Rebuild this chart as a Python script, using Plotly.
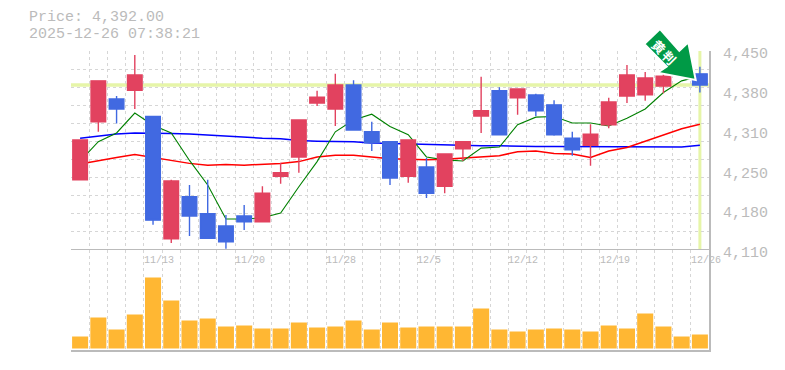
import plotly.graph_objects as go

price_text = ["Price: 4,392.00", "2025-12-26 07:38:21"]
last_price = 4392
opens = [4230,4329,4368,4383,4338,4129,4201,4172,4151,4168,4158,4236,4269,4361,4351,4392,4312,4295,4236,4252,4219,4283,4339,4382,4370,4375,4358,4301,4289,4324,4373,4375,4390,4411,4411]
highs = [4298,4399,4373,4443,4338,4230,4221,4230,4170,4187,4219,4259,4332,4382,4411,4400,4329,4296,4298,4267,4274,4296,4406,4388,4385,4377,4366,4312,4325,4370,4426,4414,4412,4426,4423]
lows = [4230,4312,4326,4351,4153,4122,4134,4130,4112,4144,4158,4223,4242,4356,4322,4315,4279,4221,4225,4199,4207,4262,4310,4307,4341,4339,4305,4271,4254,4318,4361,4365,4378,4408,4379]
closes = [4298,4399,4351,4409,4161,4228,4168,4130,4124,4158,4207,4242,4332,4371,4392,4315,4293,4233,4298,4207,4274,4295,4348,4307,4385,4348,4307,4281,4308,4363,4409,4404,4407,4421,4392]
ma_short = [4262,4295,4310,4344,4323,4310,4263,4221,4163,4163,4165,4173,4218,4261,4312,4332,4342,4321,4307,4269,4264,4262,4284,4286,4324,4337,4338,4327,4327,4322,4335,4351,4379,4399,4407]
ma_mid = [4257,4263,4268,4273,4268,4263,4258,4255,4256,4255,4256,4258,4261,4269,4272,4272,4269,4266,4265,4264,4265,4267,4269,4271,4278,4279,4275,4274,4268,4279,4285,4296,4307,4317,4325]
ma_long = [4301,4305,4308,4310,4310,4309,4308,4306,4304,4303,4301,4300,4297,4296,4296,4295,4293,4292,4291,4291,4289,4289,4288,4288,4287,4287,4287,4287,4286,4286,4286,4286,4286,4286,4289]
volumes = [120,310,190,340,710,480,280,300,220,230,200,200,260,210,220,280,190,260,210,220,220,220,400,190,170,190,200,190,170,230,200,350,220,120,140]
date_labels = ["11/13","11/20","11/28","12/5","12/12","12/19","12/26"]
date_index = [4,9,14,19,24,29,34]
price_ticks = [4450,4382,4314,4246,4178,4110]
price_tick_labels = ["4,450","4,380","4,310","4,250","4,180","4,110"]

x = list(range(len(closes)))
GRAY = "#bbbbbb"
GRID = "#d6d6d6"
RED = "#e2425f"
BLUE = "#4169e1"
YEL = "#e6f5a8"
ARROW = "#009a46"
MONO = "Liberation Mono, DejaVu Sans Mono, monospace"

fig = go.Figure()
for vals, col, w in [(ma_long, "#0000ff", 1.5), (ma_mid, "#ff0000", 1.5), (ma_short, "#008000", 1.1)]:
    fig.add_trace(go.Scatter(x=x, y=vals, mode="lines", line=dict(color=col, width=w), xaxis="x", yaxis="y", hoverinfo="skip"))
fig.add_trace(go.Candlestick(x=x, open=opens, high=highs, low=lows, close=closes, xaxis="x", yaxis="y3", whiskerwidth=0,
    increasing=dict(line=dict(color=RED, width=1.4), fillcolor=RED),
    decreasing=dict(line=dict(color=BLUE, width=1.4), fillcolor=BLUE)))
fig.add_trace(go.Bar(x=x, y=volumes, marker=dict(color="#ffb733", line=dict(width=0)), xaxis="x2", yaxis="y2"))

edges = [i - 0.5 for i in x]
xcommon = dict(range=[-0.5, 34.5], tickvals=edges, showticklabels=False, ticks="", showgrid=True, gridcolor=GRID, griddash="3px,3px", gridwidth=1, zeroline=False, fixedrange=True)
ycommon = dict(range=[4110, 4450], fixedrange=True)
PANEL = 100 / 299
fig.update_layout(
    width=785, height=370, autosize=False, showlegend=False,
    paper_bgcolor="white", plot_bgcolor="white",
    margin=dict(l=71, r=76, t=51, b=20, autoexpand=False),
    bargap=0.12, boxgap=0.2, boxgroupgap=0,
    xaxis=dict(**xcommon, anchor="y", domain=[0, 1], rangeslider=dict(visible=False)),
    xaxis2=dict(**xcommon, anchor="y2", domain=[0, 1], showline=True, linecolor=GRAY, linewidth=2),
    yaxis=dict(**ycommon, domain=[PANEL, 1], showgrid=True, gridcolor=GRID, griddash="3px,3px", tick0=4110, dtick=340 / 11, showticklabels=False, showline=False, ticks="", zeroline=False, anchor="x"),
    yaxis3=dict(**ycommon, overlaying="y", anchor="x", side="right", showgrid=False, tickmode="array", tickvals=price_ticks, ticktext=price_tick_labels,
                tickfont=dict(family=MONO, size=15, color=GRAY), ticks="", showline=True, linecolor=GRAY, linewidth=2, zeroline=False, ticklabelstandoff=9, ticklabelshift=2),
    yaxis2=dict(range=[-15, 985], domain=[0, PANEL], anchor="x2", side="right", showgrid=False, showticklabels=False, ticks="", showline=True, linecolor=GRAY, linewidth=2, zeroline=False, fixedrange=True),
)

fig.add_shape(type="line", xref="x", yref="y", x0=-0.5, x1=34.5, y0=last_price, y1=last_price, line=dict(color=YEL, width=3.5), layer="below")
fig.add_shape(type="line", xref="x", yref="paper", x0=x[-1], x1=x[-1], y0=PANEL, y1=1, line=dict(color=YEL, width=3), layer="below")
fig.add_shape(type="line", xref="x", yref="y", x0=-0.5, x1=34.5, y0=4110, y1=4110, line=dict(color=GRAY, width=2), layer="above")

fig.add_annotation(xref="paper", yref="paper", x=-0.069, y=1.1137, xanchor="left", yanchor="middle", showarrow=False, text=price_text[0], font=dict(family=MONO, size=15, color=GRAY))
fig.add_annotation(xref="paper", yref="paper", x=-0.069, y=1.0568, xanchor="left", yanchor="middle", showarrow=False, text=price_text[1], font=dict(family=MONO, size=15, color=GRAY))

for idx, lab in zip(date_index, date_labels):
    fig.add_annotation(xref="x2", yref="y2", x=idx - 0.5, y=880, xanchor="left", xshift=-2, yanchor="middle", showarrow=False, text=lab, font=dict(family=MONO, size=10, color=GRAY))

def px(a, b):
    return (a - 71) / 638, 1 - (b - 51) / 299
poly = [(660, 29), (679.3, 50.7), (688.3, 42.3), (695.7, 80), (657.7, 72.7), (666.7, 66.7), (644.3, 44)]
path = "M " + " L ".join("%.5f,%.5f" % px(*p) for p in poly) + " Z"
fig.add_shape(type="path", xref="paper", yref="paper", path=path, fillcolor=ARROW, line=dict(color="white", width=2), layer="above")
for (gx, gy), glyph in zip([(659, 46), (669.5, 57)], ["黄", "判"]):
    cx, cy = px(gx, gy)
    fig.add_annotation(xref="paper", yref="paper", x=cx, y=cy, xanchor="center", yanchor="middle", showarrow=False, text="<b>%s</b>" % glyph, textangle=45, font=dict(family="Noto Sans CJK JP", size=13, color="white"))

fig.write_html("out.html", config=dict(displayModeBar=False), post_script="document.body.style.margin='0';document.documentElement.style.overflow='hidden';")
